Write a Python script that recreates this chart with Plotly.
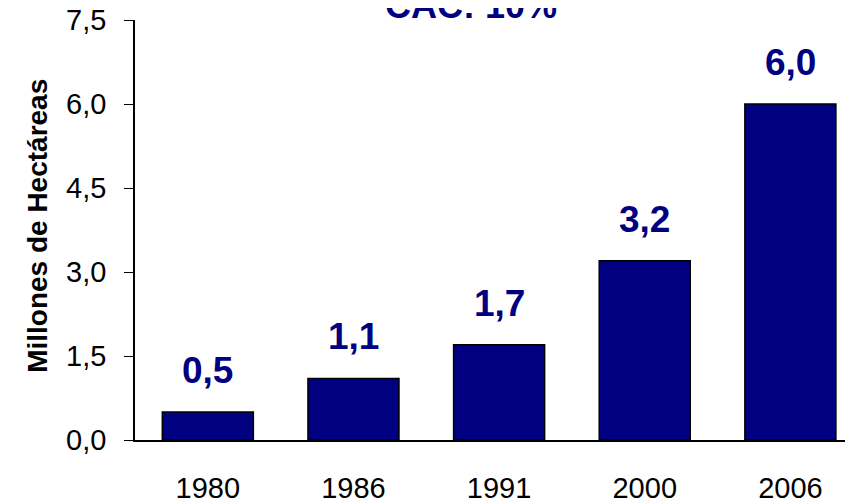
import plotly.graph_objects as go

years = ["1980", "1986", "1991", "2000", "2006"]
values = [0.5, 1.1, 1.7, 3.2, 6.0]
labels = ["0,5", "1,1", "1,7", "3,2", "6,0"]
y_ticks = [0, 1.5, 3.0, 4.5, 6.0, 7.5]
y_ticktext = ["0,0", "1,5", "3,0", "4,5", "6,0", "7,5"]
title_text = "CAC: 10%"
y_title = "Millones de Hectáreas"

navy = "#000080"
FONT = "Arial, Liberation Sans, sans-serif"

fig = go.Figure()
fig.add_trace(go.Bar(
    x=years, y=values, width=0.625,
    marker=dict(color=navy, line=dict(color="black", width=1.5)),
    hoverinfo="skip",
))

for i, (v, t) in enumerate(zip(values, labels)):
    fig.add_annotation(x=i, y=v, xref="x", yref="y", text="<b>" + t + "</b>", showarrow=False,
                       xanchor="center", yanchor="bottom", yshift=19,
                       font=dict(family=FONT, size=37, color=navy))

fig.add_annotation(xref="paper", yref="paper", x=0.468, y=1, text="<b>" + title_text + "</b>",
                   showarrow=False, xanchor="center", yanchor="bottom", yshift=-8,
                   font=dict(family=FONT, size=36, color=navy))

fig.add_annotation(xref="paper", yref="paper", x=-0.135, y=0.51, text="<b>" + y_title + "</b>",
                   textangle=-90, showarrow=False, xanchor="center", yanchor="middle",
                   font=dict(family=FONT, size=28, color="black"))

# page body has an 8px margin; figure sized/offset to compensate
fig.update_layout(
    width=845, height=492,
    margin=dict(l=127, r=0, t=12, b=60, autoexpand=False),
    paper_bgcolor="white", plot_bgcolor="white",
    showlegend=False,
    font=dict(family=FONT, color="black"),
)
fig.update_xaxes(type="category", range=[-0.5, 4.43], showline=True, linecolor="black", linewidth=1.5,
                 ticks="", ticklabelstandoff=21, tickfont=dict(size=29, color="black"),
                 ticklabeloverflow="allow",
                 showgrid=False, zeroline=False, automargin=False)
fig.update_yaxes(range=[0, 7.5], tickvals=y_ticks, ticktext=y_ticktext, showline=True,
                 linecolor="black", linewidth=1.5, ticks="outside", ticklen=9, tickcolor="black",
                 tickfont=dict(size=29, color="black"), ticklabelstandoff=12,
                 ticklabeloverflow="allow",
                 showgrid=False, zeroline=False, automargin=False)

fig.write_html("out.html")
